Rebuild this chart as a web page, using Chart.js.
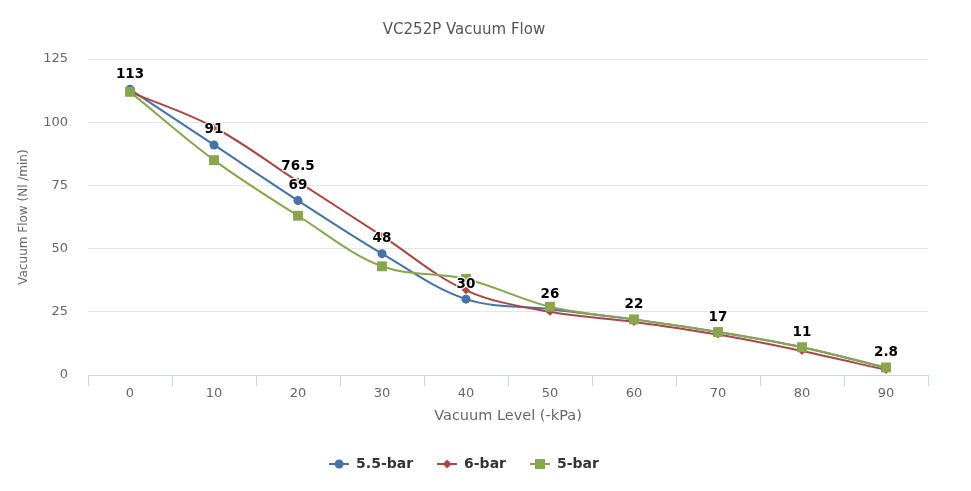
<!DOCTYPE html>
<html>
<head>
<meta charset="utf-8">
<script src="https://cdn.jsdelivr.net/npm/chart.js@4/dist/chart.umd.min.js"></script>
<style>
  html, body { margin: 0; padding: 0; background: #fff; }
  #wrap { width: 971px; height: 491px; }
</style>
</head>
<body>
<div id="wrap"><canvas id="myChart" width="971" height="491"></canvas></div>
<script>
const categories = ['0', '10', '20', '30', '40', '50', '60', '70', '80', '90'];
const flow55 = [113, 91, 69, 48, 30, 26, 22, 17, 11, 2.8];
const flow6 = [112, 98, 76.5, 55, 33.5, 25, 21, 16, 9.5, 2];
const flow5 = [112, 85, 63, 43, 38, 27, 22, 17, 11, 3];
const yTicks = [0, 25, 50, 75, 100, 125];
// which points carry a value label (the rest overlap in the original)
const labels55 = [0, 1, 2, 3, 4, 5, 6, 7, 8, 9];
const labels6 = [2];
const labels5 = [];

const FONT = "'DejaVu Sans', Verdana, sans-serif";

// legend symbol: short line with the marker in the middle
function legendSymbol (color, style) {
  const c = document.createElement('canvas');
  c.width = 20; c.height = 12;
  const g = c.getContext('2d');
  g.strokeStyle = color;
  g.lineWidth = 2;
  g.beginPath(); g.moveTo(0, 6); g.lineTo(20, 6); g.stroke();
  g.fillStyle = color;
  g.beginPath();
  if (style === 'circle') {
    g.arc(10, 6, 4.5, 0, Math.PI * 2);
  } else if (style === 'rectRot') {
    g.moveTo(10, 1.5); g.lineTo(14.5, 6); g.lineTo(10, 10.5); g.lineTo(5.5, 6); g.closePath();
  } else {
    g.rect(5, 1, 10, 10);
  }
  g.fill();
  return c;
}

const valueLabels = {
  id: 'valueLabels',
  afterDatasetsDraw (chart) {
    const ctx = chart.ctx;
    ctx.save();
    ctx.font = 'bold 13.5px ' + FONT;
    ctx.textAlign = 'center';
    ctx.textBaseline = 'middle';
    ctx.lineJoin = 'round';
    chart.data.datasets.forEach((ds, i) => {
      const meta = chart.getDatasetMeta(i);
      (ds.labelIdx || []).forEach(k => {
        const pt = meta.data[k];
        const txt = String(ds.data[k]);
        ctx.strokeStyle = 'rgba(255,255,255,0.9)';
        ctx.lineWidth = 2.5;
        ctx.strokeText(txt, pt.x, pt.y - 15);
        ctx.fillStyle = '#000';
        ctx.fillText(txt, pt.x, pt.y - 15);
      });
    });
    ctx.restore();
  }
};

const series = [
  { label: '5.5-bar', data: flow55, color: '#4572A7', style: 'circle', radius: 4.5, idx: labels55, order: 2 },
  { label: '6-bar', data: flow6, color: '#AA4643', style: 'rectRot', radius: 4, idx: labels6, order: 1 },
  { label: '5-bar', data: flow5, color: '#89A54E', style: 'rect', radius: 7, idx: labels5, order: 0 }
];

const ctx = document.getElementById('myChart').getContext('2d');
const chart = new Chart(ctx, {
  type: 'line',
  data: {
    labels: categories,
    datasets: series.map(s => ({
      label: s.label,
      data: s.data,
      borderColor: s.color,
      backgroundColor: s.color,
      pointBackgroundColor: s.color,
      pointBorderWidth: 0,
      pointStyle: s.style,
      pointRadius: s.radius,
      borderWidth: 2,
      tension: 0.35,
      labelIdx: s.idx,
      order: s.order,
      symbol: legendSymbol(s.color, s.style)
    }))
  },
  plugins: [valueLabels],
  options: {
    responsive: false,
    animation: false,
    events: [],
    layout: { padding: { left: 0, right: 43, top: 0, bottom: 10 } },
    plugins: {
      title: {
        display: true,
        text: 'VC252P Vacuum Flow',
        color: '#555',
        font: { family: FONT, size: 15, weight: 'normal' },
        padding: { top: 21, bottom: 20 }
      },
      legend: {
        position: 'bottom',
        labels: {
          usePointStyle: true,
          pointStyleWidth: 20,
          boxHeight: 12,
          padding: 24,
          color: '#333',
          font: { family: FONT, size: 14, weight: 'bold' },
          generateLabels (chart) {
            return chart.data.datasets.map((ds, i) => ({
              text: ds.label,
              pointStyle: ds.symbol,
              fillStyle: ds.borderColor,
              strokeStyle: ds.borderColor,
              lineWidth: 0,
              fontColor: '#333',
              datasetIndex: i,
              hidden: false
            }));
          }
        }
      },
      tooltip: { enabled: false }
    },
    scales: {
      x: {
        offset: true,
        grid: {
          offset: true,
          drawOnChartArea: false,
          drawTicks: true,
          tickLength: 11,
          color: '#ccd6eb'
        },
        border: { display: true, color: '#ccd6eb', width: 1 },
        ticks: { color: '#666', padding: 0, font: { family: FONT, size: 13 } },
        title: {
          display: true,
          text: 'Vacuum Level (-kPa)',
          color: '#666',
          font: { family: FONT, size: 14.5 },
          padding: { top: 10, bottom: 8 }
        },
        afterFit (scale) { scale.height = 58; }
      },
      y: {
        min: 0,
        max: 125,
        afterBuildTicks (scale) { scale.ticks = yTicks.map(v => ({ value: v })); },
        grid: { color: '#e6e6e6', drawTicks: false },
        border: { display: false },
        ticks: { color: '#666', padding: 20, font: { family: FONT, size: 13 } },
        title: {
          display: true,
          text: 'Vacuum Flow (Nl /min)',
          color: '#666',
          font: { family: FONT, size: 12 },
          padding: { top: 17, bottom: 0 }
        },
        afterFit (scale) { scale.width = 88; }
      }
    }
  }
});
</script>
</body>
</html>
